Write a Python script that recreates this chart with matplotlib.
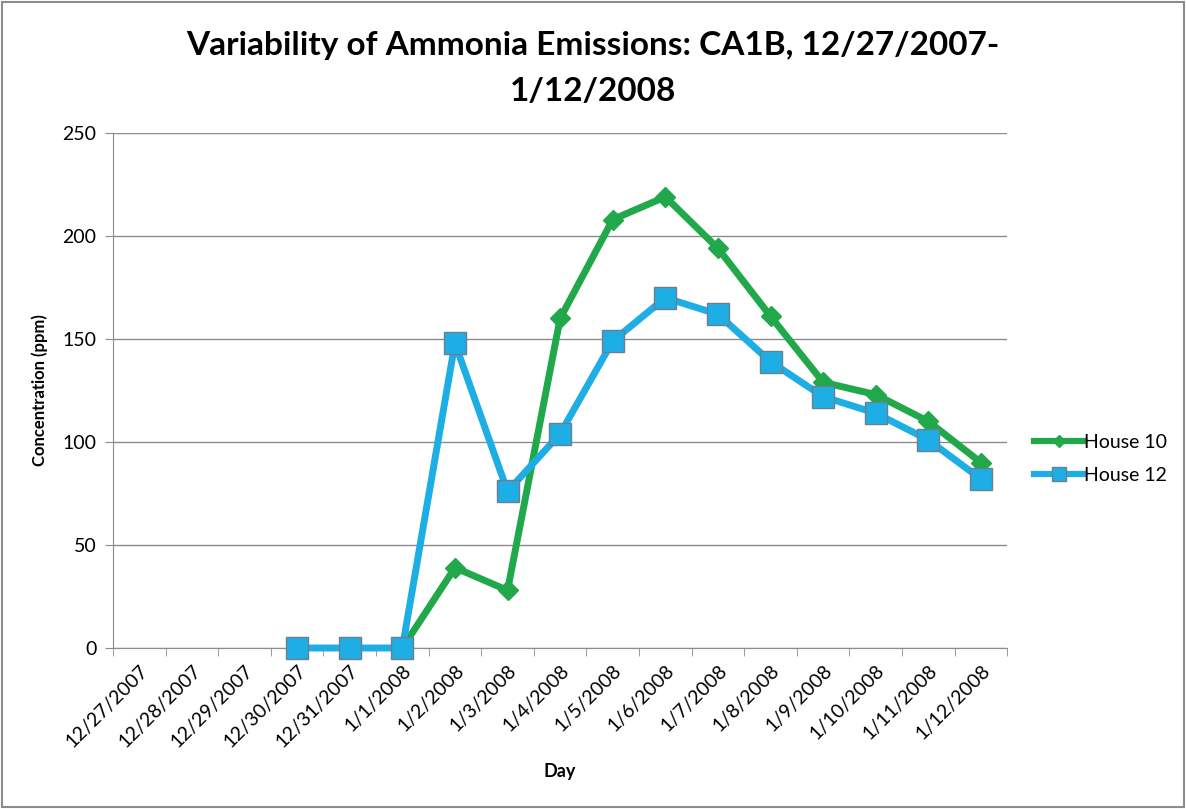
import numpy as np
import matplotlib.pyplot as plt
from matplotlib.patches import Rectangle

plt.rcParams['font.family'] = ['Lato', 'DejaVu Sans']

## Data
days = ['12/27/2007', '12/28/2007', '12/29/2007', '12/30/2007', '12/31/2007',
        '1/1/2008', '1/2/2008', '1/3/2008', '1/4/2008', '1/5/2008', '1/6/2008',
        '1/7/2008', '1/8/2008', '1/9/2008', '1/10/2008', '1/11/2008', '1/12/2008']
house10 = [np.nan, np.nan, np.nan, np.nan, np.nan,
           0, 39, 28, 160, 208, 219, 194, 161, 129, 123, 110, 90]
house12 = [np.nan, np.nan, np.nan, 0, 0,
           0, 148, 76, 104, 149, 170, 162, 139, 122, 114, 101, 82]

fig = plt.figure(figsize=(11.86, 8.09), dpi=100)
ax = fig.add_axes([0.0953, 0.199, 0.754, 0.6366])

x = np.arange(len(days))
ax.plot(x, house10, color='#20a84a', lw=5, marker='D', ms=10,
        markerfacecolor='#20a84a', markeredgecolor='#20a84a', label='House 10',
        zorder=3, clip_on=False)
ax.plot(x, house12, color='#1eaee6', lw=5, marker='s', ms=16,
        markerfacecolor='#1eaee6', markeredgecolor='#6d7f8c', markeredgewidth=1,
        label='House 12', zorder=4, clip_on=False)

ax.set_xlim(-0.5, len(days) - 0.5)
ax.set_ylim(0, 250)
ax.set_yticks(range(0, 251, 50))
ax.grid(axis='y', color='#8c8c8c', lw=1)
ax.set_axisbelow(True)

ax.set_xticks(x)
ax.set_xticklabels(days, rotation=45, ha='right', rotation_mode='anchor', fontsize=14)
ax.set_xticks(np.arange(-0.5, len(days)), minor=True)
ax.tick_params(axis='x', which='major', length=0, pad=10)
ax.tick_params(axis='x', which='minor', length=6, color='#8c8c8c')
ax.tick_params(axis='y', length=6, color='#8c8c8c', labelsize=14, pad=6)

for s in ['top', 'right']:
    ax.spines[s].set_visible(False)
for s in ['left', 'bottom']:
    ax.spines[s].set_color('#8c8c8c')

ax.set_xlabel('Day', fontsize=13, fontweight='bold', labelpad=9)
ax.set_ylabel('Concentration (ppm)', fontsize=12, fontweight='bold', labelpad=10)

fig.suptitle('Variability of Ammonia Emissions: CA1B, 12/27/2007-\n1/12/2008',
             fontsize=24, fontweight='bold', y=0.962, linespacing=1.7)

leg = ax.legend(loc='center left', bbox_to_anchor=(1.01, 0.367), frameon=False,
                fontsize=14, handlelength=2.6, handletextpad=0.0, labelspacing=0.8,
                markerscale=0.6)
for h in leg.get_lines():
    h.set_linewidth(4.5)

fig.patches.append(Rectangle((0.002, 0.002), 0.996, 0.996, transform=fig.transFigure,
                             fill=False, edgecolor='#8c8c8c', lw=1.5))

fig.savefig('out.png', dpi=100)
